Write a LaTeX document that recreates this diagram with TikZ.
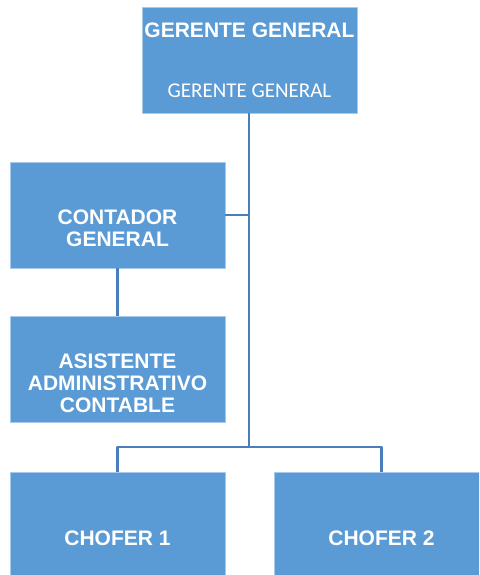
\documentclass[tikz,border=0pt]{standalone}
\usepackage{fontspec}
\setmainfont{Liberation Sans}
\newfontfamily\calibrifont{Carlito}
\definecolor{boxblue}{HTML}{5B9BD5}
\definecolor{lineblue}{HTML}{4A7EBB}
\definecolor{edgeblue}{HTML}{A9CBEB}
\begin{document}
\begin{tikzpicture}[x=1pt,y=-1pt,line join=round,
	box/.style={fill=boxblue,draw=edgeblue,line width=0.6pt,minimum width=215pt,minimum height=106pt,
		inner sep=0pt,align=center,text=white,font=\fontsize{21}{22}\selectfont\bfseries},
	link/.style={draw=lineblue,line width=2.5pt}]
	
	\useasboundingbox (0,0) rectangle (479,575);
	\clip (0,0) rectangle (479,575);
	
	\node[box] (gerente) at (249.5,60) {GERENTE GENERAL\\[38pt]{\calibrifont\mdseries\fontsize{21}{22}\selectfont GERENTE GENERAL}};
	\node[box,text height=64pt] (contador) at (117.5,215) {CONTADOR\\GENERAL};
	\node[box,text height=86pt] (asistente) at (117.5,369.5) {ASISTENTE\\ADMINISTRATIVO\\CONTABLE};
	\node[box,text height=41pt] (chofer1) at (117.5,525) {CHOFER 1};
	\node[box,text height=41pt] (chofer2) at (381.5,525) {CHOFER 2};
	
	\coordinate (jc) at (249,215);
	\coordinate (jb) at (249,447);
	
	\draw[link] (249,113) -- (jb);
	\draw[link] (contador.east) -- (jc);
	\draw[link] (contador) -- (asistente);
	\draw[link] (jb) -| (chofer1.north);
	\draw[link] (jb) -| (chofer2.north);
\end{tikzpicture}
\end{document}
